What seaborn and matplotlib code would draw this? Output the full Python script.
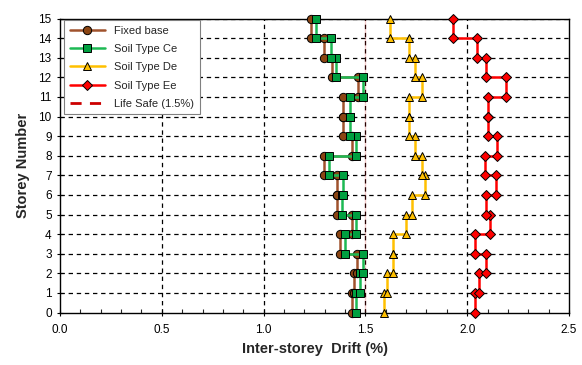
import matplotlib
matplotlib.use("Agg")
import matplotlib.pyplot as plt
import seaborn as sns
import numpy as np

storeys = list(range(1, 16))
fixed_base = [1.434, 1.443, 1.460, 1.374, 1.434, 1.361, 1.361, 1.296, 1.434, 1.391, 1.391, 1.463, 1.337, 1.299, 1.235]
soil_ce = [1.456, 1.473, 1.489, 1.399, 1.456, 1.386, 1.391, 1.320, 1.456, 1.424, 1.424, 1.489, 1.358, 1.329, 1.255]
soil_de = [1.590, 1.607, 1.636, 1.636, 1.697, 1.730, 1.792, 1.776, 1.746, 1.713, 1.713, 1.779, 1.746, 1.713, 1.623]
soil_ee = [2.037, 2.060, 2.093, 2.036, 2.114, 2.093, 2.139, 2.085, 2.147, 2.103, 2.103, 2.190, 2.090, 2.046, 1.931]
life_safe = 1.5
x_ticks = [0.0, 0.5, 1.0, 1.5, 2.0, 2.5]
y_ticks = list(range(0, 16))

sns.set_style("white")
plt.rcParams['font.family'] = ['Liberation Sans', 'DejaVu Sans']

fig = plt.figure(figsize=(5.82, 3.65), dpi=100)
ax = fig.add_axes([60/582, 1 - 312.5/365, (569-60)/582, (312.5-18.5)/365])


def step_xy(drifts, levels):
    xs, ys = [], []
    for d, s in zip(drifts, levels):
        xs += [d, d]
        ys += [s - 1, s]
    return xs, ys

# grid
for yv in y_ticks[1:]:
    ax.axhline(yv, color='black', lw=0.9, ls=(0, (3.5, 3)), zorder=0.5)
for xv in x_ticks[1:-1]:
    ax.axvline(xv, color='black', lw=0.9, ls=(0, (3.5, 3)), zorder=0.5)

series = [
    ("Fixed base", fixed_base, "#A0522D", "o", "#8B4513"),
    ("Soil Type Ce", soil_ce, "#1DB954", "s", "#00A040"),
    ("Soil Type De", soil_de, "#FFC000", "^", "#FFC000"),
    ("Soil Type Ee", soil_ee, "#FF0000", "D", "#FF0000"),
]
for i, (name, vals, lc, mk, mc) in enumerate(series):
    xs, ys = step_xy(vals, storeys)
    sns.lineplot(x=xs, y=ys, sort=False, estimator=None, ax=ax, color=lc, lw=1.8,
                 marker=mk, markersize=6 if mk != "D" else 5.5, markerfacecolor=mc,
                 markeredgecolor='black', markeredgewidth=0.7, label=name,
                 zorder=3 + i, clip_on=False)

sns.lineplot(x=[life_safe, life_safe], y=[0, 15], ax=ax, color='#CC0000', lw=2.0,
             ls=(0, (4, 3)), label='Life Safe (1.5%)', zorder=2.5)

ax.set_xlim(0, 2.5)
ax.set_ylim(0, 15)
ax.set_xticks(x_ticks)
ax.set_xticklabels([f"{v:.1f}" for v in x_ticks])
ax.set_xticks(np.arange(0, 2.51, 0.1), minor=True)
ax.set_yticks(y_ticks)
ax.tick_params(axis='both', which='major', labelsize=8.5, direction='inout', length=5, width=0.8, colors='black')
ax.tick_params(axis='x', which='minor', direction='in', length=3, width=0.8, bottom=True)
ax.tick_params(axis='x', which='major', bottom=True, pad=6)
ax.tick_params(axis='y', which='major', left=True)
for sp in ax.spines.values():
    sp.set_color('black')
    sp.set_linewidth(1.0)

ax.set_xlabel("Inter-storey  Drift (%)", fontsize=10.5, fontweight='bold', labelpad=4)
ax.set_ylabel("Storey Number", fontsize=10.5, fontweight='bold', labelpad=6)

leg = ax.legend(loc='upper left', bbox_to_anchor=(0.008, 0.995), borderaxespad=0,
                fontsize=8, frameon=True, fancybox=False, edgecolor='#808080',
                framealpha=1, handlelength=3.2, labelspacing=0.75, borderpad=0.5)
leg.get_frame().set_linewidth(0.8)
leg.set_zorder(10)

fig.savefig("out.png", dpi=100)
